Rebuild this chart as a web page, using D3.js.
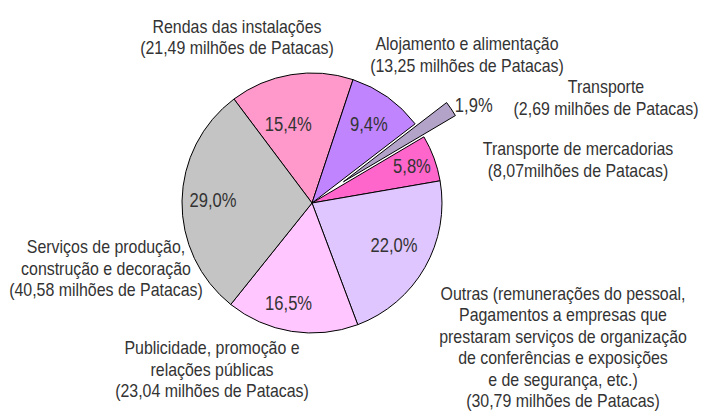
<!DOCTYPE html>
<html>
<head>
<meta charset="utf-8">
<script src="https://cdn.jsdelivr.net/npm/d3@7"></script>
<style>
  body { margin: 0; background: #fff; }
  svg text { font-family: "Liberation Sans", Arial, sans-serif; fill: #333; }
</style>
</head>
<body>
<svg id="pie" width="701" height="412"></svg>
<script>
// slices, clockwise from the upper left
var categories = ["Rendas", "Alojamento", "Transporte", "Mercadorias", "Outras", "Publicidade", "Servicos"];
var values = [21.49, 13.25, 2.69, 8.07, 30.79, 23.04, 40.58];
var pctLabels = ["15,4%", "9,4%", "1,9%", "5,8%", "22,0%", "16,5%", "29,0%"];
var colors = ["#FF99CC", "#C084FF", "#B3A3C9", "#FF66CC", "#E0C6FF", "#FFC6FF", "#C4C4C4"];
var exploded = "Transporte";

var nameLines = [
  ["Rendas das instalações", "(21,49 milhões de Patacas)"],
  ["Alojamento e alimentação", "(13,25 milhões de Patacas)"],
  ["Transporte", "(2,69 milhões de Patacas)"],
  ["Transporte de mercadorias", "(8,07milhões de Patacas)"],
  ["Outras (remunerações do pessoal,", "Pagamentos a empresas que", "prestaram serviços de organização",
   "de conferências e exposições", "e de segurança, etc.)", "(30,79 milhões de Patacas)"],
  ["Publicidade, promoção e", "relações públicas", "(23,04 milhões de Patacas)"],
  ["Serviços de produção,", "construção e decoração", "(40,58 milhões de Patacas)"]
];

var cx = 312, cy = 203, r = 130;
var svg = d3.select("#pie");

var pie = d3.pie().sort(null).value(function(d) { return d; })
  .startAngle(-36.9 * Math.PI / 180)
  .endAngle((360 - 36.9) * Math.PI / 180);
var arcs = pie(values);

var arc = d3.arc().innerRadius(0).outerRadius(r);
var labelArc = d3.arc().innerRadius(98).outerRadius(98);

var g = svg.append("g").attr("transform", "translate(" + cx + "," + cy + ")");

function offset(d, dist) {
  var a = (d.startAngle + d.endAngle) / 2;
  return [dist * Math.sin(a), -dist * Math.cos(a)];
}

g.selectAll("path")
  .data(arcs)
  .enter()
  .append("path")
  .attr("d", arc)
  .attr("fill", function(d, i) { return colors[i]; })
  .attr("stroke", "#000")
  .attr("stroke-width", 1)
  .attr("transform", function(d, i) {
    if (categories[i] != exploded) return null;
    var o = offset(d, 38);
    return "translate(" + o[0] + "," + o[1] + ")";
  });

// narrow look of the original font: squeeze Liberation Sans horizontally
function narrowText(parent, x, y, size, sx, lines, lh, firstDy) {
  var t = parent.append("g")
    .attr("transform", "translate(" + x + "," + y + ") scale(" + sx + ",1)")
    .append("text")
    .attr("text-anchor", "middle")
    .attr("font-size", size);
  lines.forEach(function(line, k) {
    t.append("tspan").attr("x", 0).attr("dy", k == 0 ? (firstDy || 0) : lh).text(line);
  });
  return t;
}

// percent labels (nudged to follow the reference placement)
var nudge = { Rendas: [-8, 17], Alojamento: [0, 0], Mercadorias: [8, -4], Outras: [-3, -7], Publicidade: [-8, 3], Servicos: [-1, -2] };
arcs.forEach(function(d, i) {
  var c = categories[i];
  if (c == exploded) return;
  var p = labelArc.centroid(d);
  narrowText(g, p[0] + nudge[c][0], p[1] + nudge[c][1], 21, 0.79, [pctLabels[i]], 0, "0.35em");
});

// exploded slice label, just past its tip
var tIdx = categories.indexOf(exploded);
var tipPos = offset(arcs[tIdx], r + 38 + 26);
narrowText(g, tipPos[0] + 1, tipPos[1] + 10, 21, 0.79, [pctLabels[tIdx]], 0, "0.35em");

// category names outside the pie (first-line baseline)
var namePos = {
  Rendas: [237, 32.5],
  Alojamento: [467, 50],
  Transporte: [606, 93],
  Mercadorias: [578, 155],
  Outras: [563, 299.5],
  Publicidade: [212, 354],
  Servicos: [106, 253]
};
var lineH = 21.6;
categories.forEach(function(c, i) {
  narrowText(svg, namePos[c][0], namePos[c][1], 17.5, 0.91, nameLines[i], lineH);
});
</script>
</body>
</html>
